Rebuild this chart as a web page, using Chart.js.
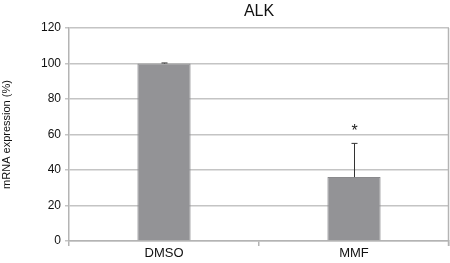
<!DOCTYPE html>
<html><head><meta charset="utf-8">
<script src="https://cdn.jsdelivr.net/npm/chart.js@4/dist/chart.umd.min.js"></script>
<style>html,body{margin:0;padding:0;background:#fff;}#wrap{width:450px;height:263px;}</style>
</head><body><div id="wrap"><canvas id="c" width="450" height="263"></canvas></div>
<script>
const categories = ["DMSO", "MMF"];
const values = [100, 36];
const errors = [0.3, 19];
const significance = ["", "*"];
const yTicks = [0, 20, 40, 60, 80, 100, 120];
const chartTitle = "ALK";
const yTitle = "mRNA expression (%)";

const FONT = "'Liberation Sans', Arial, sans-serif";

const extras = {
  id: 'extras',
  afterDatasetsDraw(chart) {
    const ctx = chart.ctx, x = chart.scales.x, y = chart.scales.y, a = chart.chartArea;
    ctx.save();
    // right border
    ctx.strokeStyle = '#b4b4b4'; ctx.lineWidth = 1.5;
    ctx.beginPath(); ctx.moveTo(a.right - 0.5, a.top); ctx.lineTo(a.right - 0.5, a.bottom + 5); ctx.stroke();
    // error bars
    ctx.strokeStyle = '#333'; ctx.lineWidth = 1;
    values.forEach((v, i) => {
      const cx = Math.round(x.getPixelForValue(i)) + 0.5;
      const yb = y.getPixelForValue(v), yt = y.getPixelForValue(v + errors[i]);
      ctx.beginPath(); ctx.moveTo(cx, yb); ctx.lineTo(cx, yt);
      ctx.moveTo(cx - 3, yt); ctx.lineTo(cx + 3, yt); ctx.stroke();
      if (significance[i]) {
        ctx.fillStyle = '#222'; ctx.font = '16px ' + FONT; ctx.textAlign = 'center'; ctx.textBaseline = 'middle';
        ctx.fillText(significance[i], cx, yt - 12);
      }
    });
    // title
    ctx.fillStyle = '#111'; ctx.font = '16px ' + FONT; ctx.textAlign = 'center'; ctx.textBaseline = 'middle';
    ctx.fillText(chartTitle, (a.left + a.right) / 2, 12);
    ctx.restore();
  }
};

new Chart(document.getElementById('c'), {
  type: 'bar',
  data: { labels: categories, datasets: [{ data: values, backgroundColor: '#939396', borderColor: '#8a8a8d', borderWidth: 1, barPercentage: 0.28, categoryPercentage: 1 }] },
  options: {
    responsive: false, animation: false, devicePixelRatio: 1,
    layout: { padding: { top: 28, right: 1, left: 0, bottom: 0 } },
    plugins: { legend: { display: false }, tooltip: { enabled: false } },
    scales: {
      x: {
        grid: { drawOnChartArea: false, color: '#b4b4b4', lineWidth: 1.5, tickLength: 5, offset: true },
        border: { color: '#b4b4b4', width: 1.5 },
        ticks: { color: '#111', font: { family: FONT, size: 13 }, padding: 0 },
        afterFit(s) { s.height = 22; }
      },
      y: {
        min: 0, max: 120,
        afterBuildTicks(s) { s.ticks = yTicks.map(v => ({ value: v })); },
        grid: { color: '#c4c4c4', lineWidth: 1.5, tickLength: 4 },
        border: { color: '#b4b4b4', width: 1.5 },
        ticks: { color: '#111', font: { family: FONT, size: 12 }, padding: 4 },
        title: { display: true, text: yTitle, color: '#111', font: { family: FONT, size: 11 }, padding: { top: 0, bottom: 0 } },
        afterFit(s) { s.width = 69; }
      }
    }
  },
  plugins: [extras]
});
</script></body></html>
